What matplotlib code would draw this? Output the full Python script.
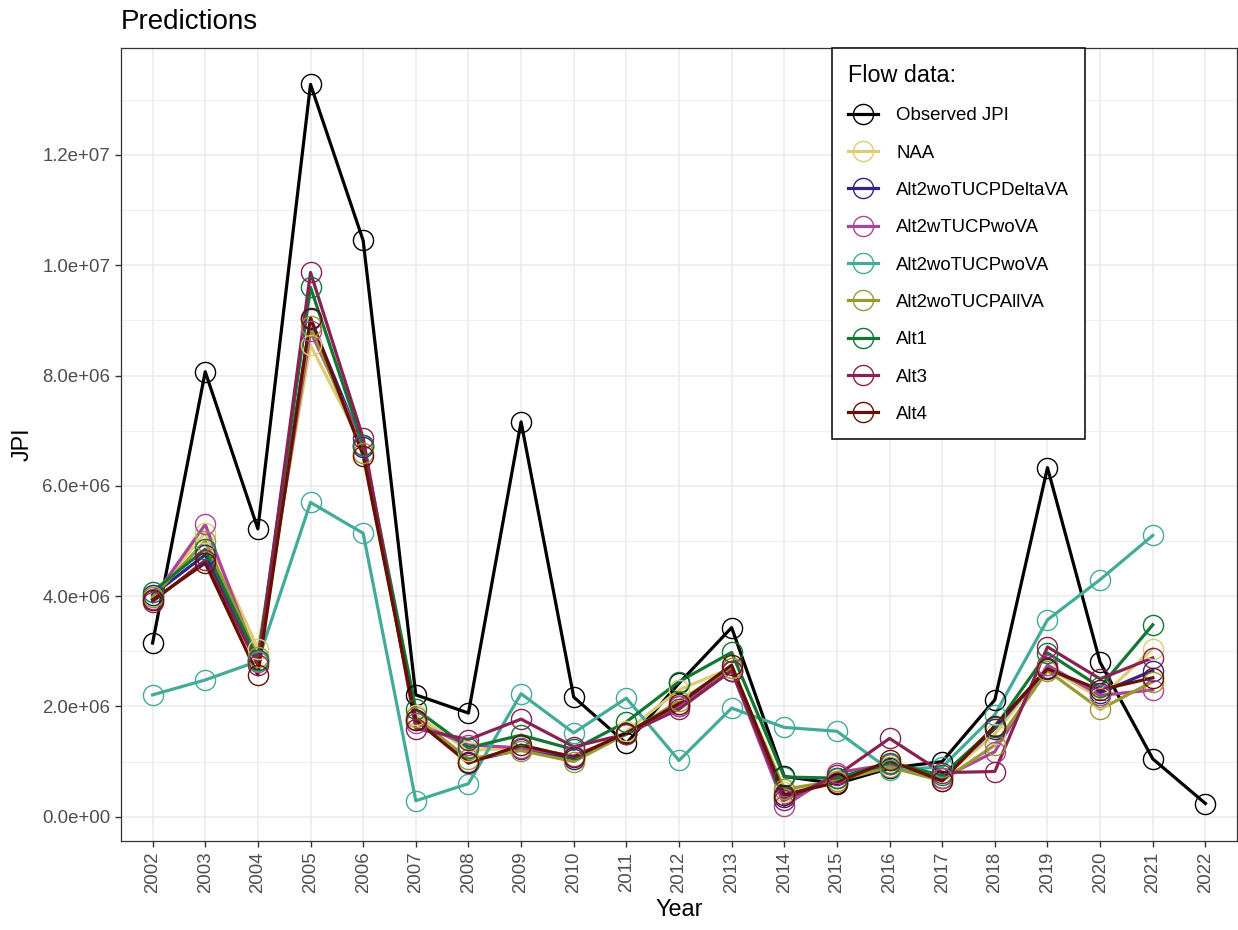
import matplotlib
matplotlib.use("Agg")
import matplotlib.pyplot as plt
from matplotlib.lines import Line2D
from matplotlib.ticker import MultipleLocator

plt.rcParams['font.family'] = ['Liberation Sans', 'DejaVu Sans']

years_obs = list(range(2002, 2023))
years_mod = list(range(2002, 2022))

observed = [3.15, 8.07, 5.22, 13.28, 10.45, 2.21, 1.88, 7.16, 2.17, 1.33, 2.42,
            3.43, 0.73, 0.60, 0.88, 1.00, 2.12, 6.33, 2.80, 1.05, 0.24]
naa = [4.00, 5.15, 3.05, 8.55, 6.70, 1.85, 1.20, 1.25, 1.05, 1.55, 2.30,
       2.70, 0.45, 0.65, 0.95, 0.70, 1.50, 2.70, 2.15, 3.05]
alt2_delta = [4.02, 4.75, 2.85, 9.02, 6.70, 1.75, 1.00, 1.22, 1.05, 1.50, 2.00,
              2.65, 0.35, 0.70, 0.95, 0.70, 1.60, 2.70, 2.25, 2.65]
alt2w_wova = [3.95, 5.30, 2.80, 8.80, 6.75, 1.70, 1.30, 1.25, 1.10, 1.50, 2.00,
              2.65, 0.20, 0.80, 0.95, 0.70, 1.18, 2.75, 2.20, 2.30]
alt2wo_wova = [2.21, 2.48, 2.82, 5.70, 5.14, 0.29, 0.60, 2.23, 1.52, 2.15, 1.02,
               1.97, 1.62, 1.55, 0.85, 0.90, 1.85, 3.57, 4.30, 5.10]
alt2_allva = [3.98, 5.00, 2.90, 8.90, 6.60, 1.80, 1.05, 1.20, 1.00, 1.50, 2.10,
              2.70, 0.50, 0.65, 0.90, 0.65, 1.30, 2.65, 1.95, 2.45]
alt1 = [4.08, 4.85, 2.85, 9.60, 6.75, 1.95, 1.25, 1.48, 1.22, 1.72, 2.45,
        2.98, 0.72, 0.70, 0.98, 0.75, 1.62, 2.97, 2.35, 3.48]
alt3 = [3.90, 4.65, 2.75, 9.87, 6.87, 1.60, 1.40, 1.77, 1.27, 1.50, 1.95,
        2.65, 0.30, 0.75, 1.42, 0.80, 0.82, 3.08, 2.50, 2.88]
alt4 = [3.93, 4.60, 2.57, 9.05, 6.55, 1.75, 0.97, 1.30, 1.08, 1.52, 2.05,
        2.75, 0.40, 0.62, 1.02, 0.65, 1.65, 2.68, 2.30, 2.52]

labels = ["Observed JPI", "NAA", "Alt2woTUCPDeltaVA", "Alt2wTUCPwoVA",
          "Alt2woTUCPwoVA", "Alt2woTUCPAllVA", "Alt1", "Alt3", "Alt4"]
colors = ["#000000", "#DDCC77", "#332288", "#AA4499", "#44AA99",
          "#999933", "#117733", "#882255", "#661100"]
series = [observed, naa, alt2_delta, alt2w_wova, alt2wo_wova, alt2_allva,
          alt1, alt3, alt4]

fig = plt.figure(figsize=(12.38, 9.30), dpi=100)
ax = fig.add_axes([121/1238, 1-841/930, (1237-121)/1238, (841-48)/930])

lw = 2.3
ms = 14.5
mew = 1.0
for s, c in zip(series, colors):
    yrs = years_obs if len(s) == len(years_obs) else years_mod
    ax.plot(yrs, [v * 1e6 for v in s], color=c, lw=lw, zorder=3)
for s, c in zip(series, colors):
    yrs = years_obs if len(s) == len(years_obs) else years_mod
    ax.plot(yrs, [v * 1e6 for v in s], ls='none', marker='o', ms=ms,
            mfc='none', mec=c, mew=mew, zorder=4)

ax.set_xlim(2001.4, 2022.6)
ax.set_ylim(-0.44e6, 13.94e6)
ax.set_xticks(years_obs)
ax.set_xticklabels([str(y) for y in years_obs], rotation=90)
yt = [0, 2e6, 4e6, 6e6, 8e6, 10e6, 12e6]
ax.set_yticks(yt)
ax.set_yticklabels(["0.0e+00", "2.0e+06", "4.0e+06", "6.0e+06", "8.0e+06",
                    "1.0e+07", "1.2e+07"])
ax.yaxis.set_minor_locator(MultipleLocator(1e6))
ax.tick_params(axis='both', which='major', labelsize=13.4, colors='#333333',
               labelcolor='#4D4D4D', length=4.2, width=1.0)
ax.tick_params(axis='y', which='minor', length=0)
ax.grid(which='major', color='#EBEBEB', lw=1.1, zorder=0)
ax.grid(which='minor', axis='y', color='#EBEBEB', lw=0.55, zorder=0)
ax.set_axisbelow(True)
for sp in ax.spines.values():
    sp.set_color('#333333')
    sp.set_linewidth(0.9)

ax.set_xlabel("Year", fontsize=16.8, labelpad=3)
ax.set_ylabel("JPI", fontsize=16.8, labelpad=6)
ax.set_title("Predictions", fontsize=20, loc='left', pad=14)

handles = [Line2D([0], [0], color=c, lw=lw, marker='o', ms=ms, mfc='none',
                  mec=c, mew=mew) for c in colors]
leg = ax.legend(handles, labels, title="Flow data:", loc='upper left',
                bbox_to_anchor=((832-121)/1116, 1.0), fontsize=13.4,
                title_fontsize=16.8, alignment='left', frameon=True,
                fancybox=False, framealpha=1, edgecolor='black',
                handlelength=1.6, handletextpad=1.0, labelspacing=1.09,
                borderpad=0.86, borderaxespad=0)
leg.get_frame().set_linewidth(1.1)
leg.set_zorder(10)

fig.savefig("out.png", dpi=100)
